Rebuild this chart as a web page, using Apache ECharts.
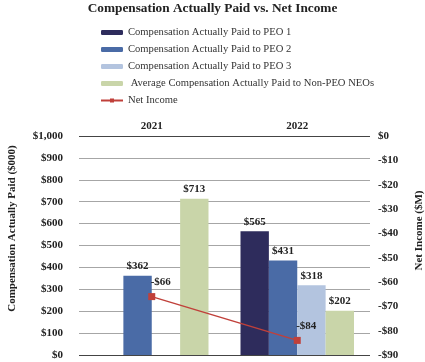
<!DOCTYPE html>
<html>
<head>
<meta charset="utf-8">
<script src="https://cdn.jsdelivr.net/npm/echarts@6/dist/echarts.min.js"></script>
<style>
html,body{margin:0;padding:0;background:#fff;}
#chart{width:425px;height:362px;}
</style>
</head>
<body>
<div id="chart"></div>
<script>
var categories = ['2021', '2022'];
var peo1 = [null, 565];
var peo2 = [362, 431];
var peo3 = [null, 318];
var neoAvg = [713, 202];
var netIncome = [-66, -84];
var seriesNames = [
  'Compensation Actually Paid to PEO 1',
  'Compensation Actually Paid to PEO 2',
  'Compensation Actually Paid to PEO 3',
  ' Average Compensation Actually Paid to Non-PEO NEOs',
  'Net Income'
];

var FONT = "'Liberation Serif', 'Times New Roman', serif";
var chart = echarts.init(document.getElementById('chart'), null, {renderer: 'canvas'});

function money(v) {
  var s = Math.abs(v).toString().replace(/\B(?=(\d{3})+(?!\d))/g, ',');
  return (v < 0 ? '-$' : '$') + s;
}

var barLabel = {
  show: true, position: 'top', distance: 4,
  fontFamily: FONT, fontWeight: 'bold', fontSize: 11, color: '#222',
  formatter: function (p) { return money(p.value); }
};

function bar(name, data, color) {
  return {
    name: name, type: 'bar', data: data, yAxisIndex: 0,
    barGap: '0%', barCategoryGap: '22%',
    itemStyle: {color: color},
    label: barLabel
  };
}

var gridColors = ['#444', '#a6a6a6', '#a6a6a6', '#a6a6a6', '#a6a6a6', '#a6a6a6', '#a6a6a6', '#a6a6a6', '#a6a6a6', '#a6a6a6', '#444'];

chart.setOption({
  animation: false,
  textStyle: {fontFamily: FONT},
  title: {
    text: 'Compensation Actually Paid vs. Net Income',
    left: 'center', top: -3,
    textStyle: {fontFamily: FONT, fontWeight: 'bold', fontSize: 13.3, color: '#222'}
  },
  legend: {
    orient: 'vertical', left: 95, top: 22,
    itemWidth: 22, itemHeight: 5, itemGap: 6,
    textStyle: {fontFamily: FONT, fontSize: 10.6, color: '#333'},
    data: seriesNames
  },
  grid: {left: 79, right: 55, top: 136, bottom: 7, containLabel: false, outerBoundsMode: 'none'},
  xAxis: {
    type: 'category', position: 'top', data: categories,
    axisLine: {show: false}, axisTick: {show: false},
    axisLabel: {fontFamily: FONT, fontWeight: 'bold', fontSize: 11, color: '#222', margin: 4}
  },
  yAxis: [{
    type: 'value', min: 0, max: 1000, interval: 100, position: 'left',
    name: 'Compensation Actually Paid ($000)', nameLocation: 'middle', nameGap: 61, nameRotate: 90,
    nameTextStyle: {fontFamily: FONT, fontWeight: 'bold', fontSize: 11, color: '#222', padding: [0, 0, 0, 34]},
    axisLine: {show: false}, axisTick: {show: false},
    axisLabel: {fontFamily: FONT, fontWeight: 'bold', fontSize: 11, color: '#222', margin: 16, formatter: money},
    splitLine: {show: true, lineStyle: {color: gridColors, width: 1}}
  }, {
    type: 'value', min: -90, max: 0, interval: 10, position: 'right',
    name: 'Net Income ($M)', nameLocation: 'middle', nameGap: 44, nameRotate: 90,
    nameTextStyle: {fontFamily: FONT, fontWeight: 'bold', fontSize: 11, color: '#222', padding: [0, 0, 0, 30]},
    axisLine: {show: false}, axisTick: {show: false},
    axisLabel: {fontFamily: FONT, fontWeight: 'bold', fontSize: 11, color: '#222', margin: 8, formatter: money},
    splitLine: {show: false}
  }],
  series: [
    bar(seriesNames[0], peo1, '#2e2c5c'),
    bar(seriesNames[1], peo2, '#4a6ba6'),
    bar(seriesNames[2], peo3, '#b3c4df'),
    bar(seriesNames[3], neoAvg, '#c9d5a9'),
    {
      name: seriesNames[4], type: 'line', data: netIncome, yAxisIndex: 1,
      symbol: 'rect', symbolSize: 7, z: 5,
      lineStyle: {color: '#c0403a', width: 1.5},
      itemStyle: {color: '#c0403a'},
      label: {
        show: true, position: 'top', offset: [9, 0],
        fontFamily: FONT, fontWeight: 'bold', fontSize: 11, color: '#222',
        formatter: function (p) { return money(p.value); }
      }
    }
  ]
});
</script>
</body>
</html>
